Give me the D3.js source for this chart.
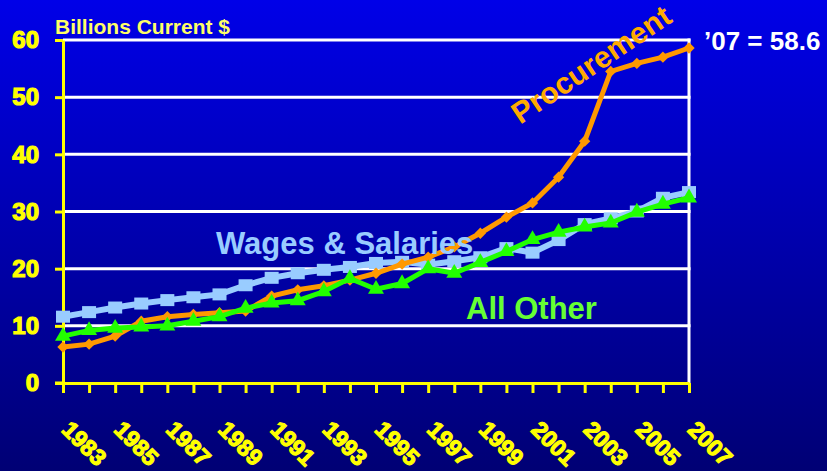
<!DOCTYPE html>
<html><head><meta charset="utf-8">
<script src="https://cdn.jsdelivr.net/npm/d3@7"></script>
<style>html,body{margin:0;padding:0;background:#000090;} svg{display:block}</style>
</head><body>
<svg id="c" width="827" height="471"></svg>
<script>
const years = [1983,1984,1985,1986,1987,1988,1989,1990,1991,1992,1993,1994,1995,1996,1997,1998,1999,2000,2001,2002,2003,2004,2005,2006,2007];
const procurement = [6.3,6.8,8.2,10.8,11.6,12.0,12.3,12.6,15.2,16.3,17.0,18.0,19.2,20.8,22.0,23.8,26.2,29.0,31.5,36.0,42.3,54.5,55.9,57.0,58.6];
const wages = [11.6,12.4,13.2,13.9,14.5,15.0,15.5,17.1,18.4,19.2,19.8,20.3,21.0,21.2,20.7,21.3,22.0,23.6,22.8,25.0,27.8,28.8,30.0,32.4,33.4];
const allOther = [8.2,9.2,9.6,9.8,10.0,10.8,11.6,13.1,14.0,14.4,16.0,18.3,16.4,17.4,20.0,19.2,21.1,23.0,25.1,26.4,27.3,28.0,29.9,31.3,32.4];
const yTickValues = [0,10,20,30,40,50,60];
const xLabelYears = [1983,1985,1987,1989,1991,1993,1995,1997,1999,2001,2003,2005,2007];
const yAxisTitle = "Billions Current $";
const seriesNames = ["Procurement","Wages & Salaries","All Other"];
const endNote = "\u201907 = 58.6";

const FONT = "'Liberation Sans', Arial, sans-serif";
const svg = d3.select("#c");
const defs = svg.append("defs");
const grad = defs.append("linearGradient").attr("id","bg").attr("x1",0).attr("y1",0).attr("x2",0).attr("y2",1);
grad.append("stop").attr("offset","0%").attr("stop-color","#0000e8");
grad.append("stop").attr("offset","100%").attr("stop-color","#000074");
svg.append("rect").attr("width",827).attr("height",471).attr("fill","url(#bg)");

const x = d3.scaleLinear().domain([1983,2007]).range([63,689]);
const y = d3.scaleLinear().domain([0,60]).range([383,40]);

// gridlines
svg.append("g").selectAll("line").data(yTickValues.filter(d=>d>0)).join("line")
  .attr("x1",x(1983)).attr("x2",x(2007)+1.5).attr("y1",d=>y(d)).attr("y2",d=>y(d))
  .attr("stroke","#ffffff").attr("stroke-width",3);
// right border
svg.append("line").attr("x1",x(2007)).attr("x2",x(2007)).attr("y1",y(60)-1.5).attr("y2",y(0))
  .attr("stroke","#ffffff").attr("stroke-width",3);

// x axis
const gx = svg.append("g").attr("transform",`translate(0,${y(0)})`)
  .call(d3.axisBottom(x).tickValues(years).tickSize(10).tickSizeOuter(0)
    .tickFormat(d => xLabelYears.includes(d) ? String(d) : ""));
gx.select(".domain").attr("stroke","#ffff00").attr("stroke-width",3);
gx.selectAll(".tick line").attr("stroke","#ffff00").attr("stroke-width",3);
gx.selectAll(".tick text")
  .attr("x",0).attr("y",0).attr("dy",0)
  .attr("transform","translate(-3,48) rotate(45)")
  .attr("text-anchor","start")
  .attr("fill","#ffff00").attr("stroke","#ffff00").attr("stroke-width",1.2)
  .style("font-family",FONT).style("font-weight","bold").style("font-size","23px");

// y axis
const gy = svg.append("g").attr("transform",`translate(${x(1983)},0)`)
  .call(d3.axisLeft(y).tickValues(yTickValues).tickSize(8).tickSizeOuter(0).tickPadding(16));
gy.select(".domain").attr("stroke","#ffff00").attr("stroke-width",3);
gy.selectAll(".tick line").attr("stroke","#ffff00").attr("stroke-width",3);
gy.selectAll(".tick text")
  .attr("fill","#ffff00").attr("stroke","#ffff00").attr("stroke-width",1.2)
  .style("font-family",FONT).style("font-weight","bold").style("font-size","24px");
svg.append("line").attr("x1",x(1983)-8).attr("x2",x(1983)).attr("y1",y(0)).attr("y2",y(0))
  .attr("stroke","#ffff00").attr("stroke-width",3);

const line = d3.line().x(d=>x(d[0])).y(d=>y(d[1]));
const zip = arr => years.map((yr,i)=>[yr,arr[i]]);

// Wages & Salaries
const wData = zip(wages);
svg.append("path").attr("d",line(wData)).attr("fill","none").attr("stroke","#99ccff").attr("stroke-width",6);
svg.append("g").selectAll("rect").data(wData).join("rect")
  .attr("x",d=>x(d[0])-7).attr("y",d=>y(d[1])-6).attr("width",14).attr("height",12).attr("fill","#99ccff");

// Procurement
const pData = zip(procurement);
svg.append("path").attr("d",line(pData)).attr("fill","none").attr("stroke","#ff9900").attr("stroke-width",5);
svg.append("g").selectAll("path").data(pData).join("path")
  .attr("d",d3.symbol().type(d3.symbolSquare).size(64)())
  .attr("transform",d=>`translate(${x(d[0])},${y(d[1])}) rotate(45)`).attr("fill","#ff9900");

// All Other
const oData = zip(allOther);
svg.append("path").attr("d",line(oData)).attr("fill","none").attr("stroke","#22ff00").attr("stroke-width",5);
svg.append("g").selectAll("path").data(oData).join("path")
  .attr("d",d3.symbol().type(d3.symbolTriangle).size(110)())
  .attr("transform",d=>`translate(${x(d[0])},${y(d[1])})`).attr("fill","#22ff00");

// Texts
svg.append("text").attr("x",55).attr("y",34).text(yAxisTitle)
  .attr("fill","#ffff66").style("font-family",FONT).style("font-weight","bold").style("font-size","21px");
svg.append("text").attr("transform","translate(597,73) rotate(-34)").attr("text-anchor","middle")
  .text(seriesNames[0]).attr("fill","#ffaa00")
  .style("font-family",FONT).style("font-weight","bold").style("font-size","30px");
svg.append("text").attr("x",216).attr("y",254).text(seriesNames[1]).attr("fill","#99ccff")
  .style("font-family",FONT).style("font-weight","bold").style("font-size","31px");
svg.append("text").attr("x",466).attr("y",319).text(seriesNames[2]).attr("fill","#66ff33")
  .style("font-family",FONT).style("font-weight","bold").style("font-size","31px");
svg.append("text").attr("x",704).attr("y",50).text(endNote).attr("fill","#ffffff")
  .style("font-family",FONT).style("font-weight","bold").style("font-size","26px");
</script>
</body></html>
